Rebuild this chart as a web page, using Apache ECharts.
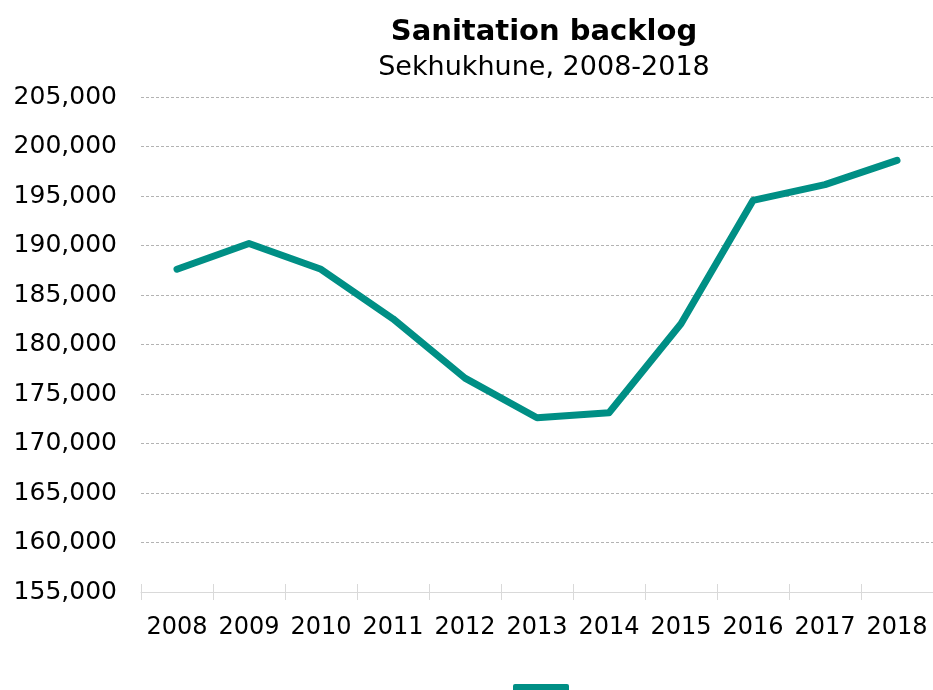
<!DOCTYPE html>
<html>
<head>
<meta charset="utf-8">
<script src="https://cdn.jsdelivr.net/npm/echarts@6/dist/echarts.min.js"></script>
<style>html,body{margin:0;padding:0;background:#fff}#c{width:933px;height:690px}</style>
</head>
<body>
<div id="c"></div>
<script>
var years = ['2008','2009','2010','2011','2012','2013','2014','2015','2016','2017','2018'];
var backlog = [187600, 190200, 187600, 182600, 176600, 172600, 173100, 182100, 194550, 196150, 198600];
var titleText = 'Sanitation backlog';
var subtitleText = 'Sekhukhune, 2008-2018';
var FONT = 'DejaVu Sans, Verdana, sans-serif';
var chart = echarts.init(document.getElementById('c'));
chart.setOption({
  animation: false,
  backgroundColor: '#ffffff',
  title: {
    text: titleText,
    subtext: subtitleText,
    left: 539,
    top: 13,
    textAlign: 'center',
    itemGap: 7,
    textStyle: { fontFamily: FONT, fontWeight: 'bold', fontSize: 29, color: '#000' },
    subtextStyle: { fontFamily: FONT, fontSize: 27, color: '#000' }
  },
  legend: {
    left: 508,
    top: 679,
    itemWidth: 56,
    itemHeight: 8,
    icon: 'roundRect',
    formatter: function () { return ''; },
    data: ['Backlog']
  },
  grid: { left: 141, right: 0, top: 97, bottom: 98, containLabel: false },
  xAxis: [{
    type: 'category',
    data: years,
    boundaryGap: true,
    axisLine: { show: true, lineStyle: { color: '#d9d9d9', width: 1 } },
    axisTick: { show: true, interval: 0, length: 8, lineStyle: { color: '#d9d9d9' } },
    axisLabel: { interval: 0, fontFamily: FONT, fontSize: 24, color: '#000', margin: 24 },
    splitLine: { show: false }
  }, {
    type: 'category',
    data: years,
    position: 'bottom',
    offset: 0,
    boundaryGap: true,
    axisLine: { show: false },
    axisTick: { show: true, interval: 0, inside: true, length: 8, lineStyle: { color: '#d9d9d9' } },
    axisLabel: { show: false },
    splitLine: { show: false }
  }],
  yAxis: {
    type: 'value',
    min: 155000,
    max: 205000,
    interval: 5000,
    axisLine: { show: false },
    axisTick: { show: false },
    axisLabel: {
      fontFamily: FONT, fontSize: 25, color: '#000', margin: 24,
      formatter: function (v) { return v.toLocaleString('en-US'); }
    },
    splitLine: { show: true, lineStyle: { color: '#b3b3b3', type: [3, 2], width: 1 } }
  },
  series: [{
    name: 'Backlog',
    type: 'line',
    data: backlog,
    symbol: 'none',
    smooth: false,
    color: '#008f85',
    lineStyle: { color: '#008f85', width: 7, cap: 'round', join: 'round' }
  }]
});
</script>
</body>
</html>
